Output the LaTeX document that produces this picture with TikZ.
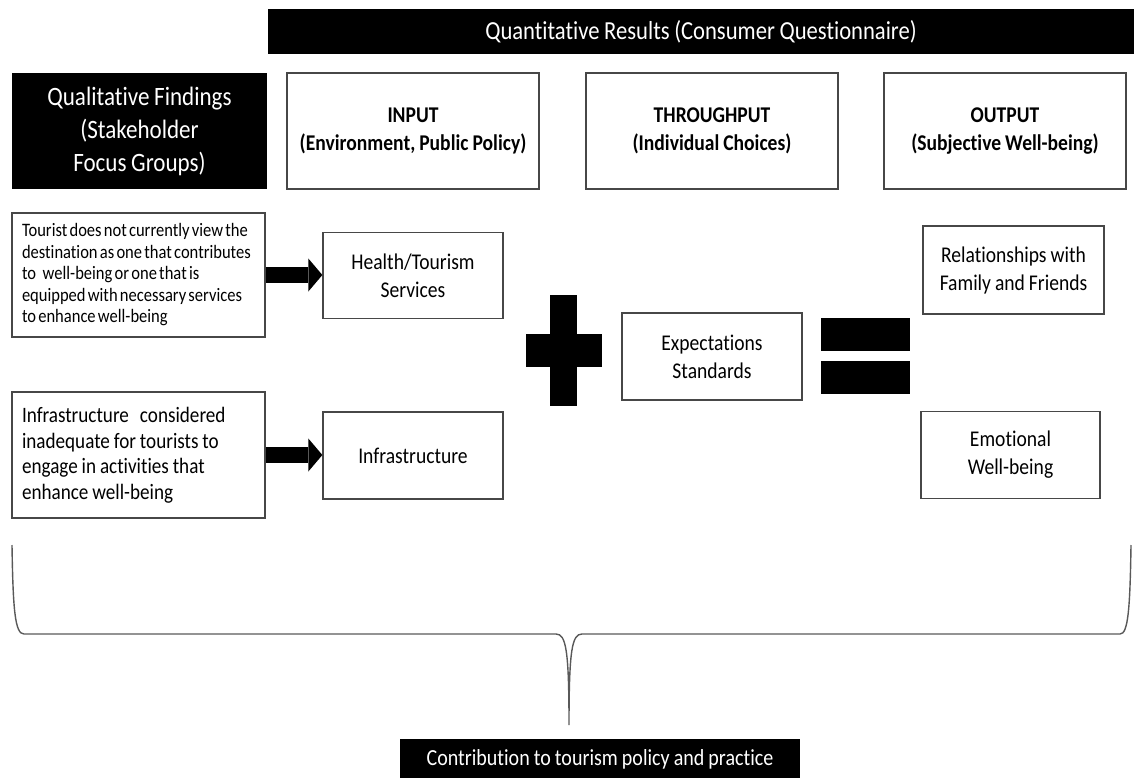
\documentclass[tikz,border=0pt]{standalone}
\usepackage{fontspec}
\setmainfont[FakeStretch=0.87,WordSpace=0.9,RawFeature=-liga]{Carlito}
% tighter-set face for the long finding note
\newfontfamily\notefont[FakeStretch=0.87,WordSpace=0.6,RawFeature=-liga]{Carlito}
\usetikzlibrary{arrows.meta}
\begin{document}
\begin{tikzpicture}[x=1pt,y=-1pt,
  box/.style={draw=black!72, line width=1.3pt, fill=white, inner sep=0pt, align=center,
    font=\fontsize{22.5}{28}\selectfont},
  headbox/.style={box, font=\bfseries\fontsize{22.5}{28}\selectfont},
  darkbox/.style={fill=black, text=white, inner sep=0pt, align=center},
  notebox/.style={box, align=flush left, inner sep=0pt},
  blockarrow/.style={line width=16pt, -{Triangle[length=14pt,width=33pt,line width=0pt]}},
  sign/.style={fill=black},
  bracestyle/.style={draw=black!65, line width=1.4pt}
]
\useasboundingbox (0,0) rectangle (1134,778);

% banner over the three stages
\node[darkbox, minimum width=866, minimum height=45,
  font=\fontsize{26}{30}\selectfont] (quant) at (701,32) {Quantitative Results (Consumer Questionnaire)};

% qualitative column heading
\node[darkbox, minimum width=255, minimum height=116,
  font=\fontsize{26.5}{33}\selectfont] (qual) at (139.5,131)
  {Qualitative Findings\\(Stakeholder\\Focus Groups)};

% stage headings
\node[headbox, minimum width=252, minimum height=116] (input) at (413,131)
  {INPUT\\(Environment, Public Policy)};
\node[headbox, minimum width=252, minimum height=116] (through) at (712,131)
  {THROUGHPUT\\(Individual Choices)};
\node[headbox, minimum width=242, minimum height=116] (output) at (1005,131)
  {OUTPUT\\(Subjective Well-being)};

% qualitative findings
\node[notebox, minimum width=253, minimum height=124, text width=233,
  font=\notefont\fontsize{19}{21.5}\selectfont] (tourist) at (138.5,275)
  {Tourist does not currently view the\\destination as one that contributes\\to\hspace{0.35em}well-being or one that is\\equipped with necessary services\\to enhance well-being};
\node[notebox, minimum width=253, minimum height=126, text width=233,
  font=\fontsize{22}{25.5}\selectfont] (infranote) at (138.5,455)
  {Infrastructure\hspace{0.5em}considered\\inadequate for tourists to\\engage in activities that\\enhance well-being};

% input factors
\node[box, minimum width=180, minimum height=86] (health) at (413,275.5) {Health/Tourism\\Services};
\node[box, minimum width=180, minimum height=87] (infra) at (413,455.5) {Infrastructure};

% throughput
\node[box, minimum width=180, minimum height=87] (expect) at (712,356.5) {Expectations\\Standards};

% outputs
\node[box, minimum width=181, minimum height=88] (relation) at (1013.5,270) {Relationships with\\Family and Friends};
\node[box, minimum width=179, minimum height=87] (emotion) at (1010.5,455) {Emotional\\Well-being};

% block arrows from findings to inputs
\draw[blockarrow] (tourist.east) -- (tourist.east -| health.west);
\draw[blockarrow] (infranote.east) -- (infranote.east -| infra.west);

% plus sign
\fill[sign] (550,295) rectangle (577,406);
\fill[sign] (526,334) rectangle (602,367);

% equals sign
\fill[sign] (821,318) rectangle (910,351);
\fill[sign] (821,361) rectangle (910,394);

% brace gathering everything above
\coordinate (bl) at (12,545);
\coordinate (br) at (1131,545);
\coordinate (tip) at (569,725);
\draw[bracestyle] (bl) .. controls (13,610) and (15,634) .. (24,634)
  -- (556,634) .. controls (566,634) and (569,650) .. (tip)
  .. controls (569,650) and (572,634) .. (582,634)
  -- (1120,634) .. controls (1128,634) and (1130,610) .. (br);

% conclusion
\node[darkbox, minimum width=400, minimum height=40,
  font=\fontsize{23}{24}\selectfont] (contrib) at (600,759) {Contribution to tourism policy and practice};
\end{tikzpicture}
\end{document}
